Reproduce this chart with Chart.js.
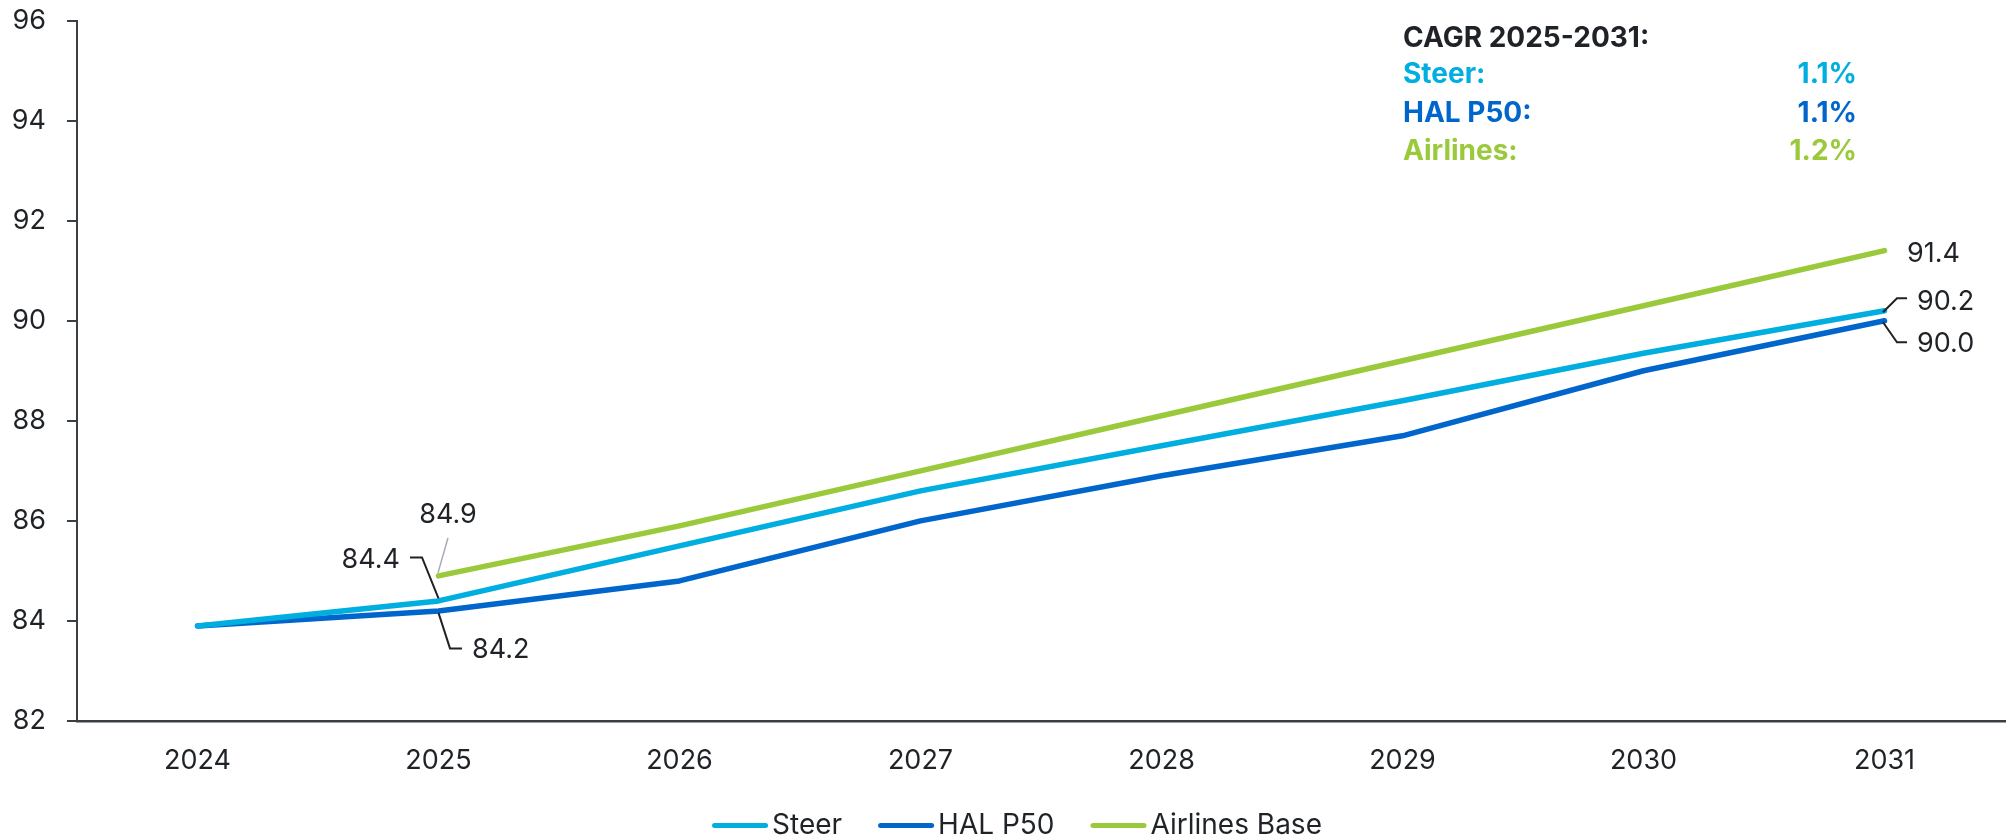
<!DOCTYPE html>
<html>
<head>
<meta charset="utf-8">
<title>Forecast 2024–2031</title>
<script src="https://cdn.jsdelivr.net/npm/chart.js@4.4.1/dist/chart.umd.min.js"></script>
<style>
  html, body { margin: 0; padding: 0; background: #ffffff; }
  #wrap { width: 2011px; height: 838px; position: relative; }
  canvas { display: block; }
</style>
</head>
<body>
<div id="wrap"><canvas id="chart" width="2011" height="838"></canvas></div>
<script>
// ---- data ----
const years = ['2024', '2025', '2026', '2027', '2028', '2029', '2030', '2031'];
const steer = [83.9, 84.4, 85.5, 86.6, 87.5, 88.4, 89.35, 90.2];
const halP50 = [83.9, 84.2, 84.8, 86.0, 86.9, 87.7, 89.0, 90.0];
const airlinesBase = [null, 84.9, 85.9, 87.0, 88.1, 89.2, 90.3, 91.4];
const seriesNames = ['Steer', 'HAL P50', 'Airlines Base'];
const cagrNames = ['Steer:', 'HAL P50:', 'Airlines:'];
const cagrTitle = 'CAGR 2025-2031:';
const yMin = 82, yMax = 96, yStep = 2;

// ---- styling ----
const COLORS = ['#00AEE0', '#0066CC', '#9ACA3C'];
const TEXT = '#1F2328';
const AXIS = '#3A3F44';
const FONT = 'Inter, "Open Sans", "DejaVu Sans", sans-serif';
const FS = 27;

// CAGR 2025 → 2031 for each series
function cagr(arr) {
  const a = arr[1], b = arr[7];
  return ((Math.pow(b / a, 1 / 6) - 1) * 100).toFixed(1) + '%';
}
const cagrValues = [cagr(steer), cagr(halP50), cagr(airlinesBase)];

// value callouts: dataset index, point index, text placement relative to the point, leader path
const callouts = [
  { ds: 2, i: 1, align: 'center', dx: 9.5, dy: -52.5, leader: [[9.5, -38], [-0.5, -3]], leaderColor: '#A3ABB8', leaderWidth: 1.5 },
  { ds: 0, i: 1, align: 'right', dx: -38.5, dy: -32.5, leader: [[-28.5, -43.5], [-16.5, -43.5], [0, -2.5]] },
  { ds: 1, i: 1, align: 'left', dx: 33.5, dy: 47.5, leader: [[0, 2], [11.5, 37.5], [23.5, 37.5]] },
  { ds: 2, i: 7, align: 'left', dx: 22.5, dy: 11.5, leader: null },
  { ds: 0, i: 7, align: 'left', dx: 32.5, dy: -0.5, leader: [[-1.5, 1.5], [12.5, -12.5], [22.5, -12.5]] },
  { ds: 1, i: 7, align: 'left', dx: 32.5, dy: 31.5, leader: [[-1.5, 1.5], [12.5, 21.5], [22.5, 21.5]] }
];

const calloutPlugin = {
  id: 'callouts',
  afterDatasetsDraw(chart) {
    const ctx = chart.ctx;
    ctx.save();
    callouts.forEach(c => {
      const pt = chart.getDatasetMeta(c.ds).data[c.i];
      const v = chart.data.datasets[c.ds].data[c.i];
      if (!pt || v == null) return;
      if (c.leader) {
        ctx.beginPath();
        ctx.strokeStyle = c.leaderColor || TEXT;
        ctx.lineWidth = c.leaderWidth || 2;
        ctx.lineJoin = 'miter';
        c.leader.forEach((p, k) => {
          const x = pt.x + p[0], y = pt.y + p[1];
          if (k === 0) ctx.moveTo(x, y); else ctx.lineTo(x, y);
        });
        ctx.stroke();
      }
      ctx.font = `${FS}px ${FONT}`;
      ctx.fillStyle = TEXT;
      ctx.textAlign = c.align;
      ctx.textBaseline = 'alphabetic';
      ctx.fillText(v.toFixed(1), pt.x + c.dx, pt.y + c.dy);
    });
    ctx.restore();
  }
};

const cagrPlugin = {
  id: 'cagrBox',
  afterDraw(chart) {
    const ctx = chart.ctx;
    ctx.save();
    ctx.font = `bold ${FS + 1}px ${FONT}`;
    ctx.textBaseline = 'alphabetic';
    ctx.textAlign = 'left';
    ctx.fillStyle = TEXT;
    ctx.fillText(cagrTitle, 1403, 46.5);
    const rows = [83, 122, 160];
    cagrNames.forEach((n, k) => {
      ctx.fillStyle = COLORS[k];
      ctx.textAlign = 'left';
      ctx.fillText(n, 1403, rows[k]);
      ctx.textAlign = 'right';
      ctx.fillText(cagrValues[k], 1857, rows[k]);
    });
    ctx.restore();
  }
};

const legendPlugin = {
  id: 'lineLegend',
  afterDraw(chart) {
    const ctx = chart.ctx;
    ctx.save();
    ctx.font = `${FS + 1}px ${FONT}`;
    const lineLen = 56, gapText = 4, gapItem = 36;
    const items = chart.data.datasets.map(d => ({ label: d.label, color: d.borderColor, w: ctx.measureText(d.label).width }));
    const total = items.reduce((s, it) => s + lineLen + gapText + it.w, 0) + gapItem * (items.length - 1);
    let x = 1017 - total / 2;
    const yLine = 825.5, yText = 834;
    items.forEach(it => {
      ctx.beginPath();
      ctx.strokeStyle = it.color;
      ctx.lineWidth = 5;
      ctx.lineCap = 'round';
      ctx.moveTo(x + 2.5, yLine);
      ctx.lineTo(x + lineLen - 2.5, yLine);
      ctx.stroke();
      ctx.fillStyle = TEXT;
      ctx.textAlign = 'left';
      ctx.textBaseline = 'alphabetic';
      ctx.fillText(it.label, x + lineLen + gapText, yText);
      x += lineLen + gapText + it.w + gapItem;
    });
    ctx.restore();
  }
};

const seriesData = [steer, halP50, airlinesBase];

new Chart(document.getElementById('chart'), {
  type: 'line',
  data: {
    labels: years,
    datasets: seriesData.map((arr, k) => ({
      label: seriesNames[k],
      data: arr,
      borderColor: COLORS[k],
      backgroundColor: COLORS[k],
      borderWidth: 5.5,
      borderCapStyle: 'round',
      borderJoinStyle: 'round',
      pointRadius: 0,
      pointHoverRadius: 0,
      tension: 0,
      spanGaps: false,
      fill: false
    }))
  },
  options: {
    responsive: false,
    animation: false,
    events: [],
    layout: { padding: { top: 20.5, right: 6, bottom: 57, left: 0 } },
    plugins: {
      legend: { display: false },
      tooltip: { enabled: false },
      title: { display: false }
    },
    scales: {
      x: {
        type: 'category',
        offset: true,
        grid: { display: false, drawTicks: false },
        border: { display: true, color: AXIS, width: 2.5 },
        ticks: {
          color: TEXT,
          font: { family: FONT, size: FS },
          padding: 24,
          autoSkip: false,
          maxRotation: 0
        },
        afterFit(scale) { scale.height = 60; }
      },
      y: {
        min: yMin,
        max: yMax,
        grid: { drawOnChartArea: false, drawTicks: true, tickLength: 10, color: AXIS, lineWidth: 2 },
        border: { display: true, color: AXIS, width: 2 },
        ticks: {
          stepSize: yStep,
          color: TEXT,
          font: { family: FONT, size: FS },
          padding: 21,
          callback: v => String(v)
        },
        afterFit(scale) {
          scale.width = 77;
          scale.paddingTop = 0;
          scale.paddingBottom = 0;
        }
      }
    }
  },
  plugins: [calloutPlugin, cagrPlugin, legendPlugin]
});
</script>
</body>
</html>
